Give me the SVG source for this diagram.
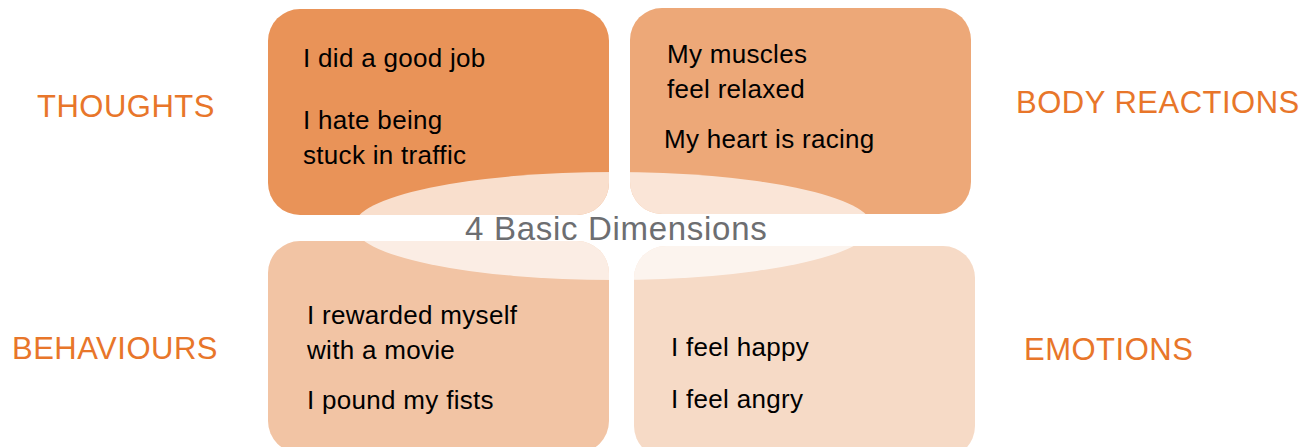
<svg xmlns="http://www.w3.org/2000/svg" width="1310" height="447" viewBox="0 0 1310 447">
<style>
.box text{font-family:"Liberation Sans",Arial,sans-serif;font-size:26px;fill:#000;letter-spacing:0.3px}
.lbl{font-family:"Liberation Sans",Arial,sans-serif;font-size:31px;fill:#e8762a;letter-spacing:0.5px}
.title{font-family:"Liberation Sans",Arial,sans-serif;font-size:33px;fill:#6d6e71;letter-spacing:0.7px}
</style>
<rect width="1310" height="447" fill="#ffffff"/>
<g id="thoughts">
<rect x="268" y="9" width="341" height="206" rx="32" ry="32" fill="#e99358"/>
</g>
<g id="body-reactions">
<rect x="630" y="8" width="341" height="206" rx="32" ry="32" fill="#eda878"/>
</g>
<g id="behaviours">
<rect x="268" y="241" width="341" height="212" rx="32" ry="32" fill="#f2c4a4"/>
</g>
<g id="emotions">
<rect x="634" y="246" width="341" height="212" rx="32" ry="32" fill="#f6dac6"/>
</g>
<g id="overlay">
<clipPath id="boxclip">
<rect x="268" y="9" width="341" height="206" rx="32" ry="32"/>
<rect x="630" y="8" width="341" height="206" rx="32" ry="32"/>
<rect x="268" y="241" width="341" height="212" rx="32" ry="32"/>
<rect x="634" y="246" width="341" height="212" rx="32" ry="32"/>
</clipPath>
<ellipse cx="613" cy="226" rx="259" ry="54" fill="#ffffff" fill-opacity="0.7" clip-path="url(#boxclip)"/>
</g>
<g class="box" id="thoughts-text">
<text x="303" y="67">I did a good job</text>
<text x="303" y="129">I hate being</text>
<text x="303" y="164">stuck in traffic</text>
</g>
<g class="box" id="body-text">
<text x="667" y="63">My muscles</text>
<text x="667" y="98">feel relaxed</text>
<text x="664" y="148">My heart is racing</text>
</g>
<g class="box" id="behaviours-text">
<text x="307" y="324">I rewarded myself</text>
<text x="307" y="359">with a movie</text>
<text x="307" y="409">I pound my fists</text>
</g>
<g class="box" id="emotions-text">
<text x="671" y="356">I feel happy</text>
<text x="671" y="408">I feel angry</text>
</g>
<g id="labels">
<text class="lbl" x="37" y="117">THOUGHTS</text>
<text class="lbl" x="1016" y="113">BODY REACTIONS</text>
<text class="lbl" x="12" y="359">BEHAVIOURS</text>
<text class="lbl" x="1024" y="360">EMOTIONS</text>
</g>
<g id="center">
<text class="title" x="465" y="240">4 Basic Dimensions</text>
</g>
<g id="connectors"/>
</svg>
